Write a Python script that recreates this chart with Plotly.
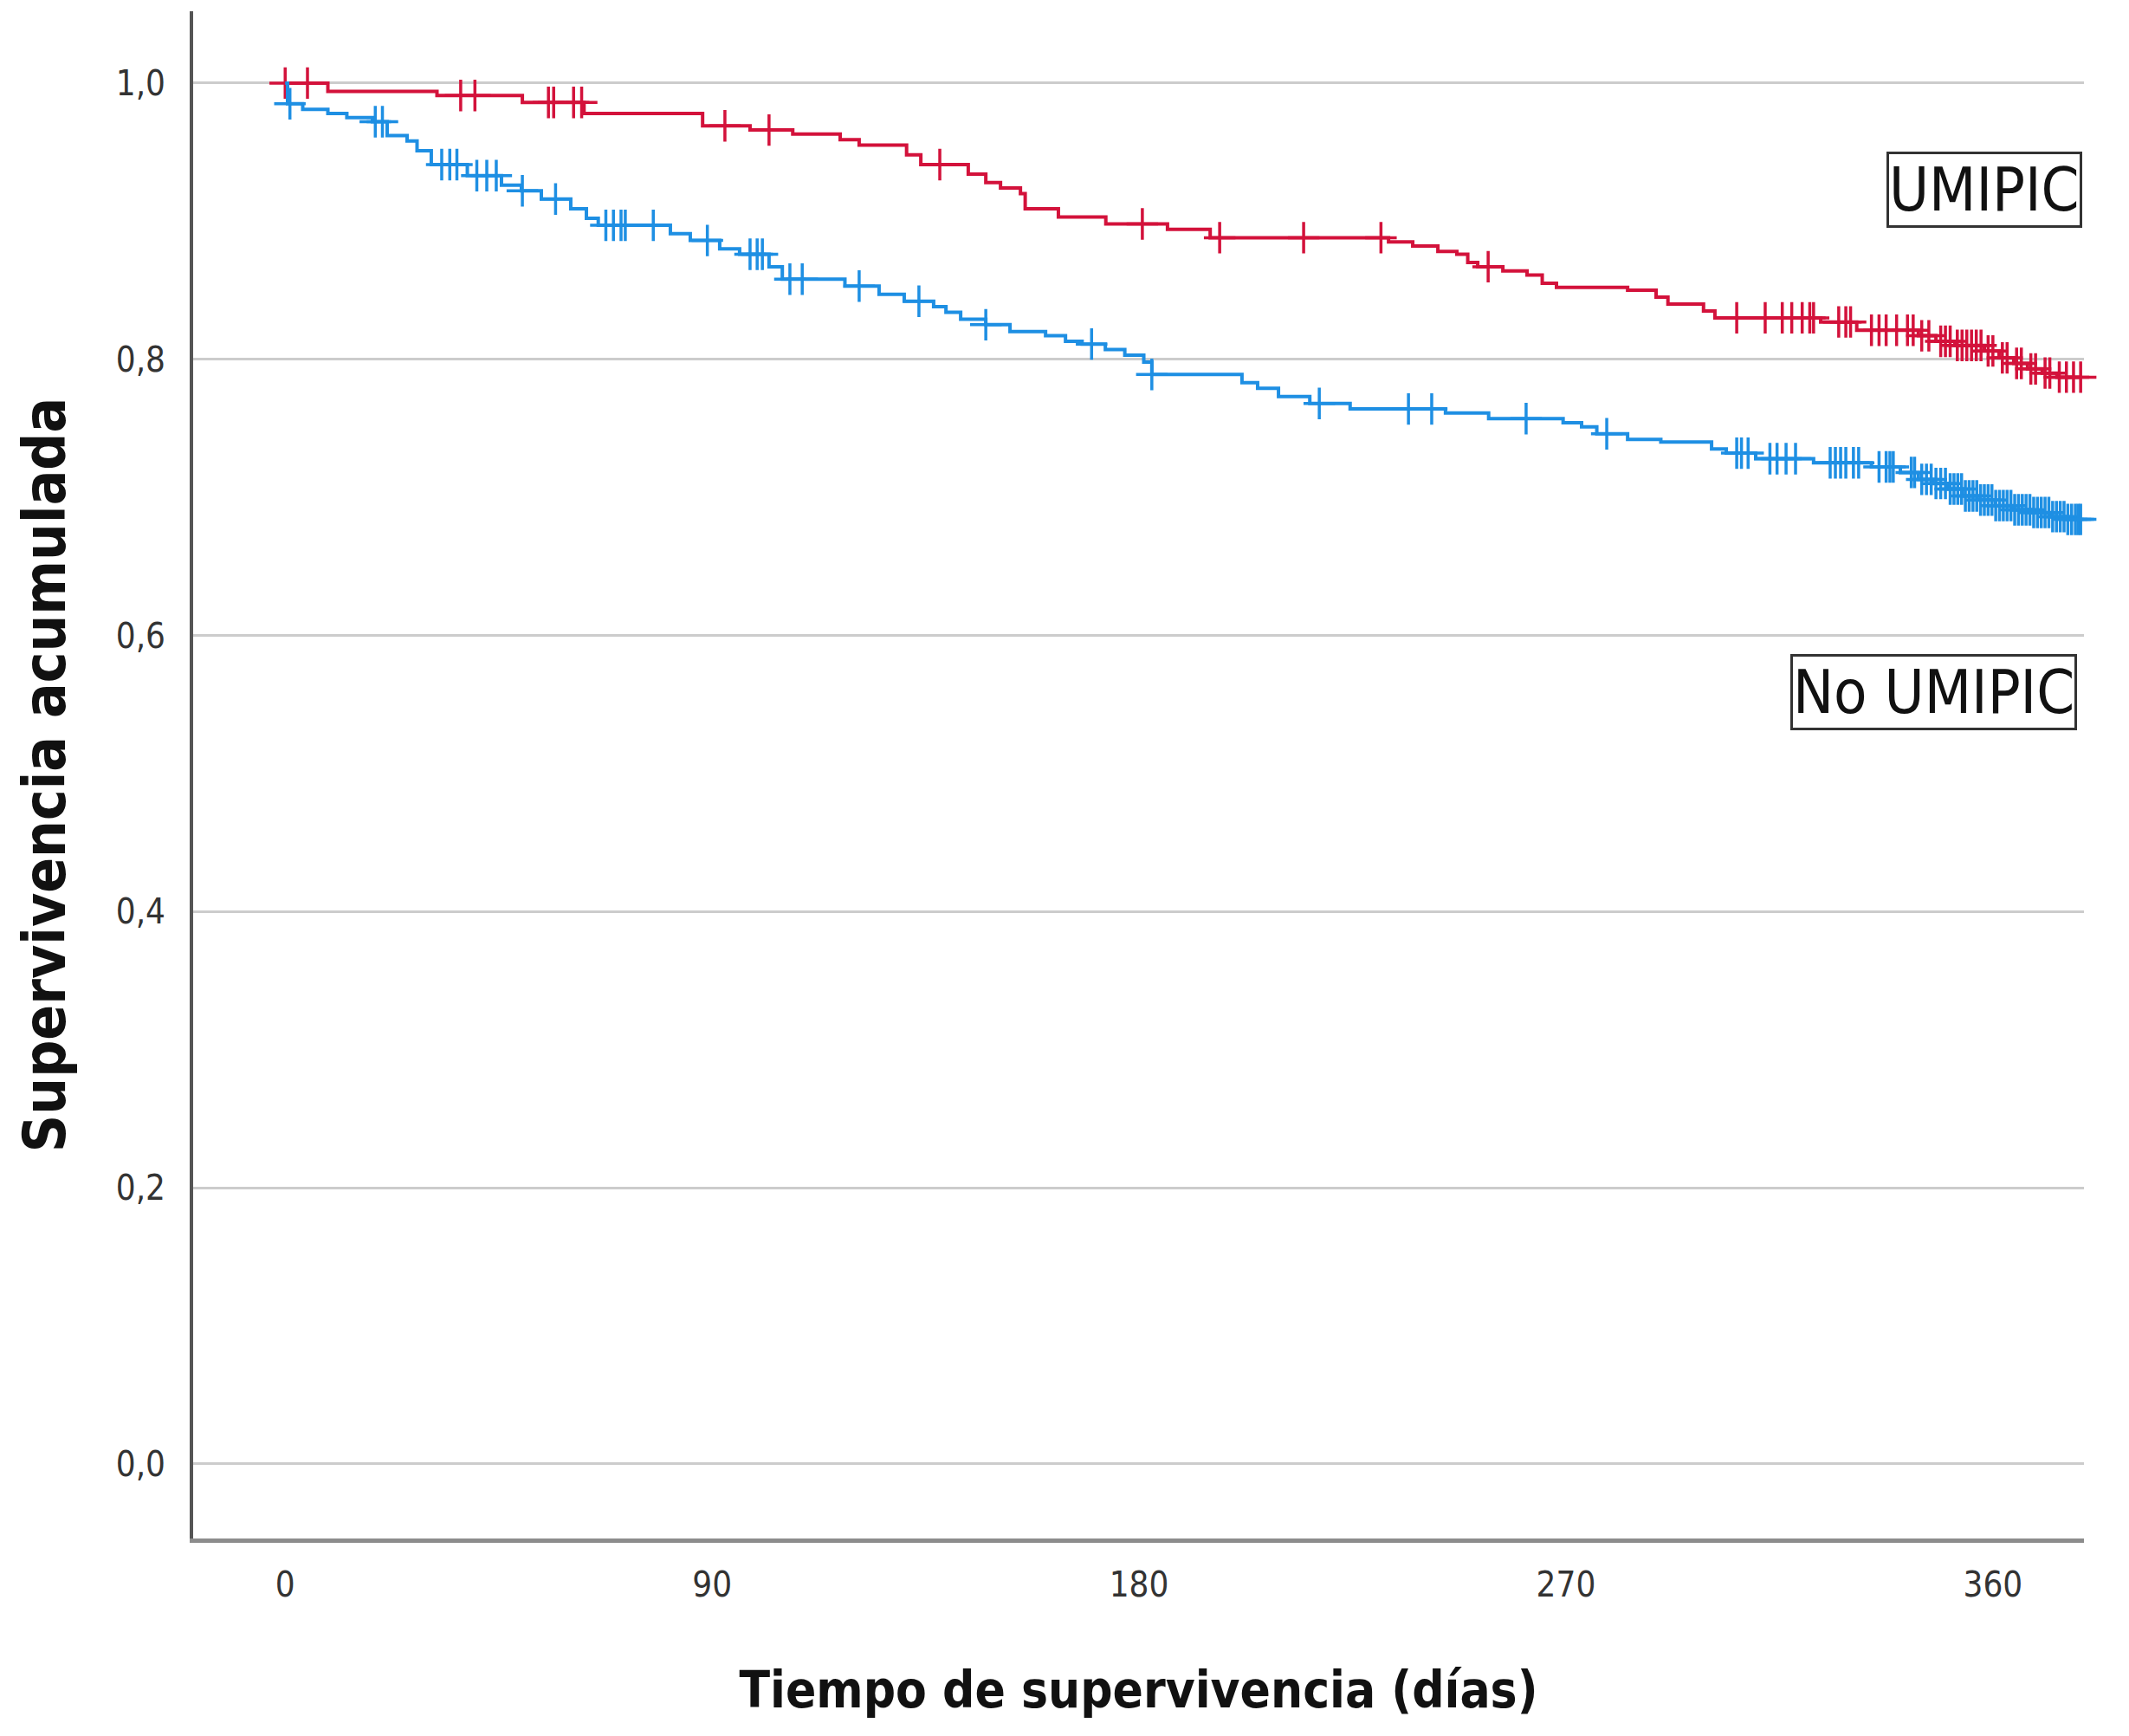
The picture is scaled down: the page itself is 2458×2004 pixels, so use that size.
import numpy as np
import plotly.graph_objects as go

# ---------------- data ----------------
# UMIPIC group: event times (days) and survival after each event
umipic_days = [0, 9, 32, 50, 63, 88, 98, 107, 117, 121,
               131, 134, 144, 147.7, 150.8, 155, 156, 163, 173, 186,
               195, 232.6, 237.7, 243, 247, 249.3, 251.4, 256.7, 261.8, 265,
               268, 283, 289, 291.5, 299, 301.4, 323.7, 331.3, 344.3, 348,
               352, 358.2, 361.3, 364.4, 367.3, 370.4, 373.5]
umipic_surv = [1.0, 0.994, 0.991, 0.986, 0.978, 0.969, 0.966, 0.963, 0.959, 0.955,
               0.948, 0.941, 0.934, 0.928, 0.924, 0.920, 0.909, 0.903, 0.898, 0.894,
               0.888, 0.885, 0.882, 0.878, 0.876, 0.870, 0.867, 0.864, 0.861, 0.855,
               0.852, 0.850, 0.845, 0.840, 0.835, 0.830, 0.827, 0.821, 0.817, 0.813,
               0.810, 0.806, 0.801, 0.797, 0.793, 0.790, 0.787]
umipic_last_followup = 378.5
umipic_censored = [0, 4.7, 37, 40, 55.5, 56.6, 60.8, 62.5, 92.7, 102,
                   138, 180.7, 197, 214.7, 231, 253.6, 306, 312, 315.6, 317.6,
                   319.8, 321.4, 322.2, 327.5, 329, 330, 334.4, 336, 337.5, 339.7,
                   342, 343.2, 345, 346.5, 349, 350, 351, 352.5, 353.5, 354.5,
                   355.5, 356.5, 357.5, 359, 360, 362, 363, 365, 366, 368,
                   369, 371, 372, 374, 375.5, 377, 378.5]

# No UMIPIC group
no_umipic_days = [0, 0.5, 3.7, 9, 13, 18.4, 21.5, 25.7, 27.8, 30.8,
                  38.4, 45.6, 49.8, 54, 60.2, 63.5, 66, 81.2, 85.4, 91.6,
                  95.8, 102, 104.8, 118, 125.2, 130.5, 136.7, 139.3, 142.4, 147.7,
                  152.8, 160.3, 164.5, 168, 172.9, 177, 181, 182.7, 201.7, 205,
                  209.4, 216, 224.5, 244.6, 253.7, 269.4, 273.3, 276.5, 283, 290,
                  300.7, 303.8, 310, 322.2, 334.4, 340.5, 344.3, 347.4, 350.5, 353.6,
                  356.7, 360.5, 364.4, 368.2, 372, 375.8]
no_umipic_surv = [1.0, 0.985, 0.981, 0.978, 0.975, 0.972, 0.962, 0.958, 0.951, 0.941,
                  0.933, 0.926, 0.922, 0.916, 0.909, 0.902, 0.897, 0.891, 0.886, 0.880,
                  0.876, 0.867, 0.858, 0.853, 0.847, 0.842, 0.838, 0.834, 0.829, 0.825,
                  0.820, 0.817, 0.813, 0.811, 0.807, 0.803, 0.798, 0.789, 0.783, 0.779,
                  0.773, 0.768, 0.764, 0.761, 0.757, 0.754, 0.751, 0.746, 0.742, 0.740,
                  0.735, 0.732, 0.728, 0.725, 0.722, 0.718, 0.713, 0.710, 0.706, 0.701,
                  0.698, 0.694, 0.691, 0.689, 0.686, 0.684]
no_umipic_last_followup = 378.5
no_umipic_censored = [1, 19, 20.5, 33, 34.7, 36.2, 40.4, 42.5, 44.5, 50,
                      57, 67.6, 69.2, 70.8, 71.7, 77.6, 89, 98, 99.5, 100.6,
                      106.4, 109, 121, 133.6, 147.7, 170, 182.7, 218, 236.8, 241.7,
                      261.6, 278.6, 306, 307, 308.4, 313, 314.5, 316.4, 318.4, 325.7,
                      326.8, 327.9, 329, 330.6, 331.7, 336, 337.5, 338.3, 339, 342.8,
                      343.5, 345, 346, 347, 348, 349, 350, 351, 351.8, 352.6,
                      353.4, 354.2, 355, 355.8, 356.6, 357.4, 358.2, 359, 359.8, 360.6,
                      361.4, 362.2, 363, 363.8, 364.6, 365.4, 366.2, 367, 367.8, 368.6,
                      369.4, 370.2, 371, 371.8, 372.6, 373.4, 374.2, 375, 375.8, 376.6,
                      377.4, 378, 378.5]

x_ticks = [0, 90, 180, 270, 360]
y_ticks = [0.0, 0.2, 0.4, 0.6, 0.8, 1.0]
x_title = "Tiempo de supervivencia (días)"
y_title = "Supervivencia acumulada"
group_labels = ["UMIPIC", "No UMIPIC"]

# ---------------- style ----------------
RED = "#D3123B"
BLUE = "#1E8FE3"
FONT = "Liberation Sans Narrow, DejaVu Sans Condensed, Arial Narrow, sans-serif"


def km_step(days, surv, last):
    x = list(days) + [last]
    y = list(surv) + [surv[-1]]
    return x, y


def censor_y(days, surv, cens):
    d = np.asarray(days, dtype=float)
    s = np.asarray(surv, dtype=float)
    idx = np.searchsorted(d, np.asarray(cens, dtype=float), side="right") - 1
    return s[idx]


fig = go.Figure()

for days, surv, last, cens, color, name in [
    (umipic_days, umipic_surv, umipic_last_followup, umipic_censored, RED, group_labels[0]),
    (no_umipic_days, no_umipic_surv, no_umipic_last_followup, no_umipic_censored, BLUE, group_labels[1]),
]:
    sx, sy = km_step(days, surv, last)
    fig.add_trace(go.Scatter(x=sx, y=sy, mode="lines", line=dict(color=color, width=4, shape="hv"),
                             name=name, showlegend=False, cliponaxis=False))
    fig.add_trace(go.Scatter(x=cens, y=censor_y(days, surv, cens), mode="markers",
                             marker=dict(symbol="cross-thin-open", size=26, color=color,
                                         line=dict(color=color, width=3.5)),
                             name=name + " censurado", showlegend=False, cliponaxis=False))

# group labels in boxes
fig.add_annotation(x=358.2, y=0.9226, xref="x", yref="y", text=group_labels[0], showarrow=False,
                   font=dict(family=FONT, size=70, color="#111"),
                   bordercolor="#333", borderwidth=3, borderpad=0, bgcolor="white")
fig.add_annotation(x=347.5, y=0.559, xref="x", yref="y", text=group_labels[1], showarrow=False,
                   font=dict(family=FONT, size=70, color="#111"),
                   bordercolor="#333", borderwidth=3, borderpad=0, bgcolor="white")

fig.update_layout(
    width=2442, height=1988,
    margin=dict(l=215, r=44, t=5, b=220),
    plot_bgcolor="white", paper_bgcolor="white",
    separators=",.",
    font=dict(family=FONT, color="#333"),
)

fig.update_xaxes(
    range=[-19.4, 379.2], tickvals=x_ticks, showgrid=False, zeroline=False,
    showline=True, linecolor="#8c8c8c", linewidth=5,
    ticks="outside", ticklen=14, tickcolor="rgba(0,0,0,0)",
    tickfont=dict(family=FONT, size=40, color="#333"),
    title=dict(text=x_title, font=dict(family=FONT, size=58, color="#111", weight="bold"), standoff=81),
)
fig.update_yaxes(
    range=[-0.054, 1.052], tickvals=y_ticks, tickformat=".1f",
    showgrid=True, gridcolor="#cccccc", gridwidth=3, zeroline=False,
    showline=True, linecolor="#555", linewidth=4,
    ticks="outside", ticklen=20, tickcolor="rgba(0,0,0,0)",
    tickfont=dict(family=FONT, size=40, color="#333"),
    title=dict(text=y_title, font=dict(family=FONT, size=67, color="#111", weight="bold"), standoff=37),
)

fig.write_html("out.html")
